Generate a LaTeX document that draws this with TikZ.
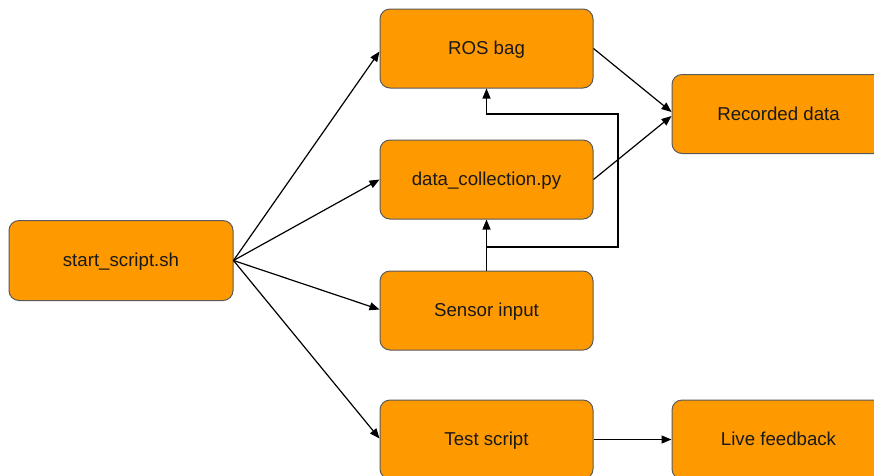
\documentclass[tikz,border=0pt]{standalone}
\usepackage{fontspec}
\setmainfont{Liberation Sans}
\usetikzlibrary{arrows.meta}
\definecolor{boxfill}{HTML}{FF9900}
\definecolor{boxline}{HTML}{5A5A5A}
\tikzset{
  block/.style={draw=boxline, line width=1pt, fill=boxfill, rounded corners=10pt,
    minimum width=213pt, minimum height=79pt, inner sep=0pt,
    text height=12.6pt, text depth=0pt,
    font=\fontsize{18.67}{22}\selectfont, text=black!90},
  link/.style={draw=black, line width=1.2pt, -{Triangle[length=10pt,width=8pt]}}
}
\begin{document}
\begin{tikzpicture}[x=1pt, y=-1pt]
  \useasboundingbox (0,0) rectangle (874,475);
  \clip (0,0) rectangle (874,475);
  \fill[white] (0,0) rectangle (874,475);

  % boxes
  \node[block, minimum width=224pt, minimum height=80pt] (start) at (121,260.5) {start\_script.sh};
  \node[block] (ros)    at (486.5,48.5)  {ROS bag};
  \node[block] (dc)     at (486.5,179.5) {data\_collection.py};
  \node[block] (sensor) at (486.5,310.5) {Sensor input};
  \node[block] (test)   at (486.5,439.5) {Test script};
  \node[block] (rec)    at (778.5,114)   {Recorded data};
  \node[block] (live)   at (778.5,439.5) {Live feedback};

  % launcher fan-out
  \draw[link] (start.east) -- ([yshift=-3pt]ros.west);
  \draw[link] (start.east) -- (dc.west);
  \draw[link] (start.east) -- ([yshift=1pt]sensor.west);
  \draw[link] (start.east) -- ([yshift=1pt]test.west);

  % recording outputs
  \draw[link] (ros.east) -- ([yshift=2pt]rec.west);
  \draw[link] (dc.east) -- ([yshift=-2pt]rec.west);

  % sensor input feeding the collector and the bag
  \coordinate (tap)  at (618,247);
  \coordinate (turn) at (618,114);
  \draw[link] (sensor.north) -- (dc.south);
  \draw[link] (tap -| sensor.north) -- (tap) -- (turn) -| (ros.south);

  % feedback path
  \draw[link] (test.east) -- (live.west);
\end{tikzpicture}
\end{document}
